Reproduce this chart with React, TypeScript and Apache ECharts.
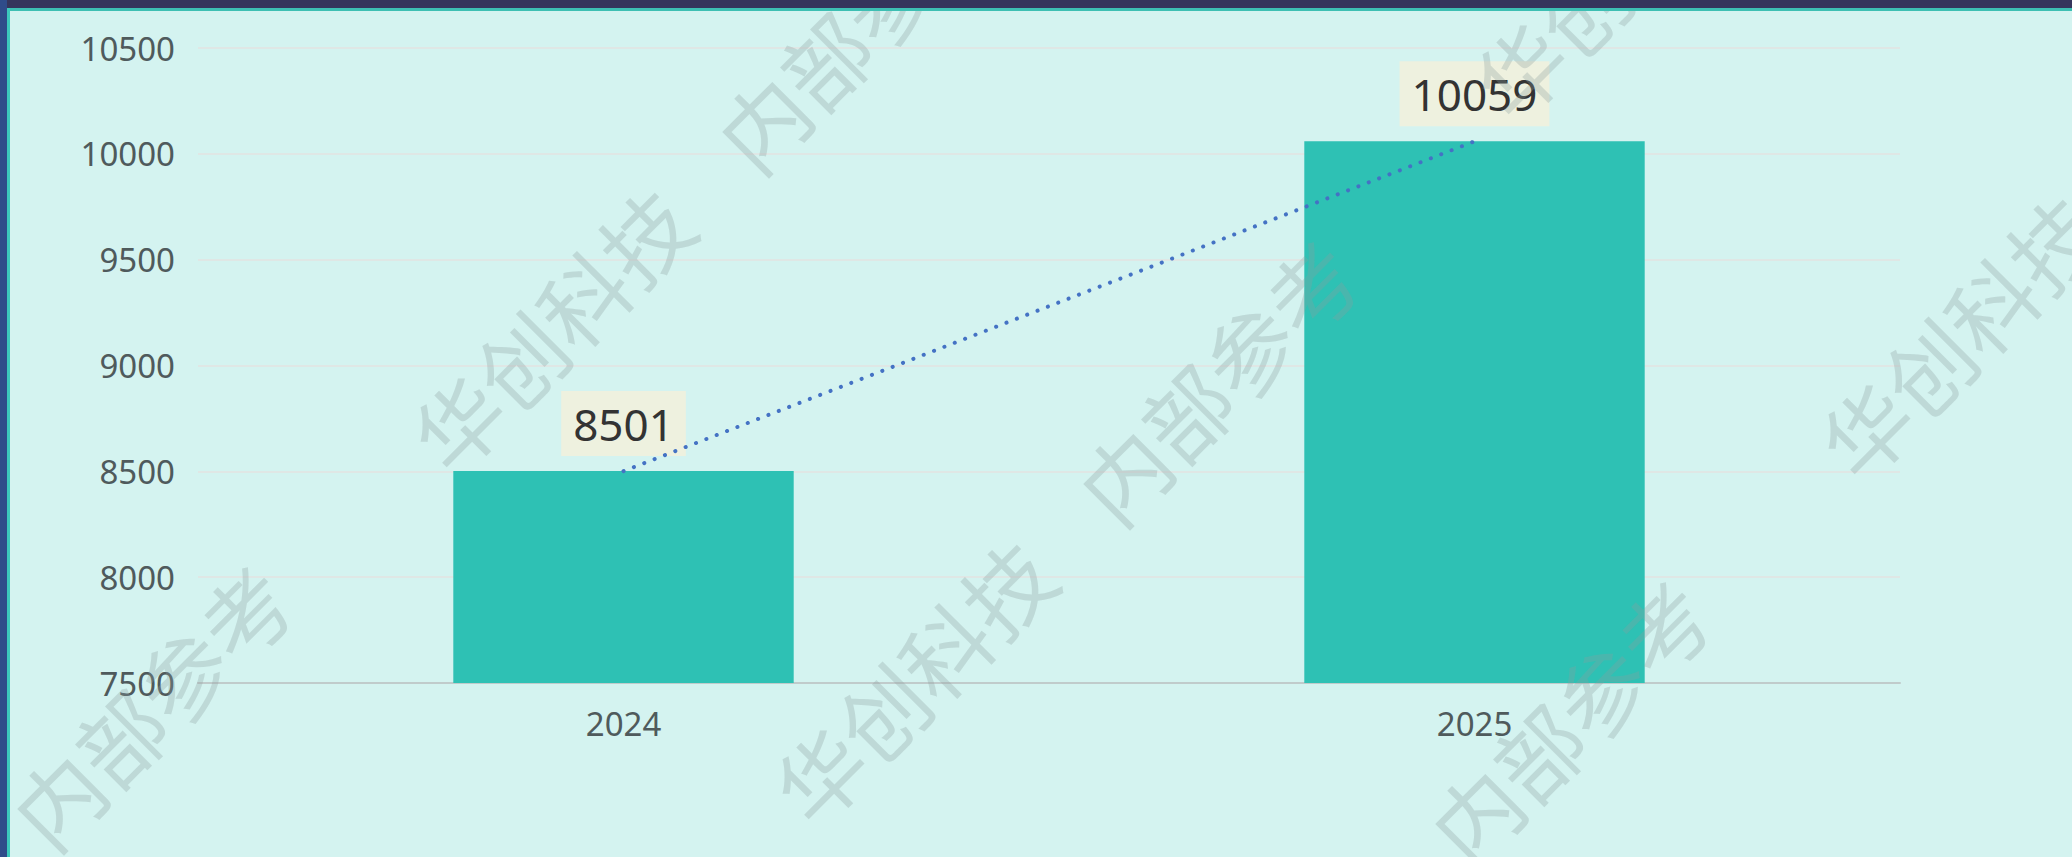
import React, { useEffect, useRef } from 'react';
import * as echarts from 'echarts';

// ---- data ----
const categories = ['2024', '2025'];
const barValues = [8501, 10059];
const trendValues = [8501, 10059];
const yMin = 7500;
const yMax = 10500;
const yInterval = 500;

// ---- watermark (decoration) ----
const wmWords = ['华创科技', '内部参考'];
const wmPlaces: [number, number, number][] = [
  // [wordIndex, centerX, centerY]
  [0, 550, 328],
  [0, 912, 680],
  [0, 1612, -25],
  [0, 1958, 335],
  [1, 150, 705],
  [1, 855, 28],
  [1, 1216, 380],
  [1, 1568, 720],
];

const W = 2072;
const H = 857;

export default function App() {
  const ref = useRef<HTMLDivElement>(null);

  useEffect(() => {
    document.body.style.margin = '0';
    const chart = echarts.init(ref.current!, undefined, { renderer: 'svg' });

    const watermark = wmPlaces.map(([wi, x, y]) => ({
      type: 'text',
      x,
      y,
      rotation: Math.PI / 4,
      z: 100,
      silent: true,
      style: {
        text: wmWords[wi],
        align: 'center',
        verticalAlign: 'middle',
        fontSize: 88,
        fontFamily: 'Noto Sans CJK SC',
        fill: 'rgba(140,160,160,0.3)',
      },
    }));

    const frame = [
      { type: 'rect', z: 120, shape: { x: 0, y: 0, width: W, height: 8 }, style: { fill: '#35355c' } },
      { type: 'rect', z: 121, shape: { x: 0, y: 8, width: W, height: 3 }, style: { fill: '#3dbfb3' } },
      { type: 'rect', z: 122, shape: { x: 0, y: 0, width: 7, height: H }, style: { fill: '#2f4c8a' } },
      { type: 'rect', z: 123, shape: { x: 7, y: 8, width: 3, height: H - 8 }, style: { fill: '#3cc8bc' } },
    ];

    chart.setOption({
      animation: false,
      backgroundColor: '#d4f3f0',
      grid: { left: 198, right: 172, top: 48, bottom: 174, containLabel: false },
      xAxis: {
        type: 'category',
        data: categories,
        axisLine: { show: true, lineStyle: { color: '#c0cbcb', width: 2 } },
        axisTick: { show: false },
        axisLabel: { color: '#4f5a5c', fontSize: 33, margin: 24, fontFamily: 'Noto Sans' },
        splitLine: { show: false },
      },
      yAxis: {
        type: 'value',
        min: yMin,
        max: yMax,
        interval: yInterval,
        axisLine: { show: false },
        axisTick: { show: false },
        axisLabel: {
          color: '#4f5a5c',
          fontSize: 33,
          margin: 23,
          fontFamily: 'Noto Sans',
          formatter: (v: number) => String(v),
        },
        splitLine: { lineStyle: { color: '#dfe7e5', width: 2 } },
      },
      series: [
        {
          type: 'bar',
          data: barValues,
          barWidth: '40%',
          itemStyle: { color: '#2ec1b4' },
          z: 2,
          label: {
            show: true,
            position: 'top',
            distance: 15,
            fontSize: 44,
            lineHeight: 45,
            color: '#333333',
            fontFamily: 'Noto Sans',
            backgroundColor: '#eef1df',
            padding: [10, 12],
          },
        },
        {
          type: 'line',
          data: trendValues,
          symbol: 'none',
          z: 3,
          lineStyle: { color: '#4472c4', width: 4, type: [0.1, 11], cap: 'round' },
        },
      ],
      graphic: [...watermark, ...frame],
    });

    return () => chart.dispose();
  }, []);

  return <div ref={ref} style={{ width: W, height: H }} />;
}
